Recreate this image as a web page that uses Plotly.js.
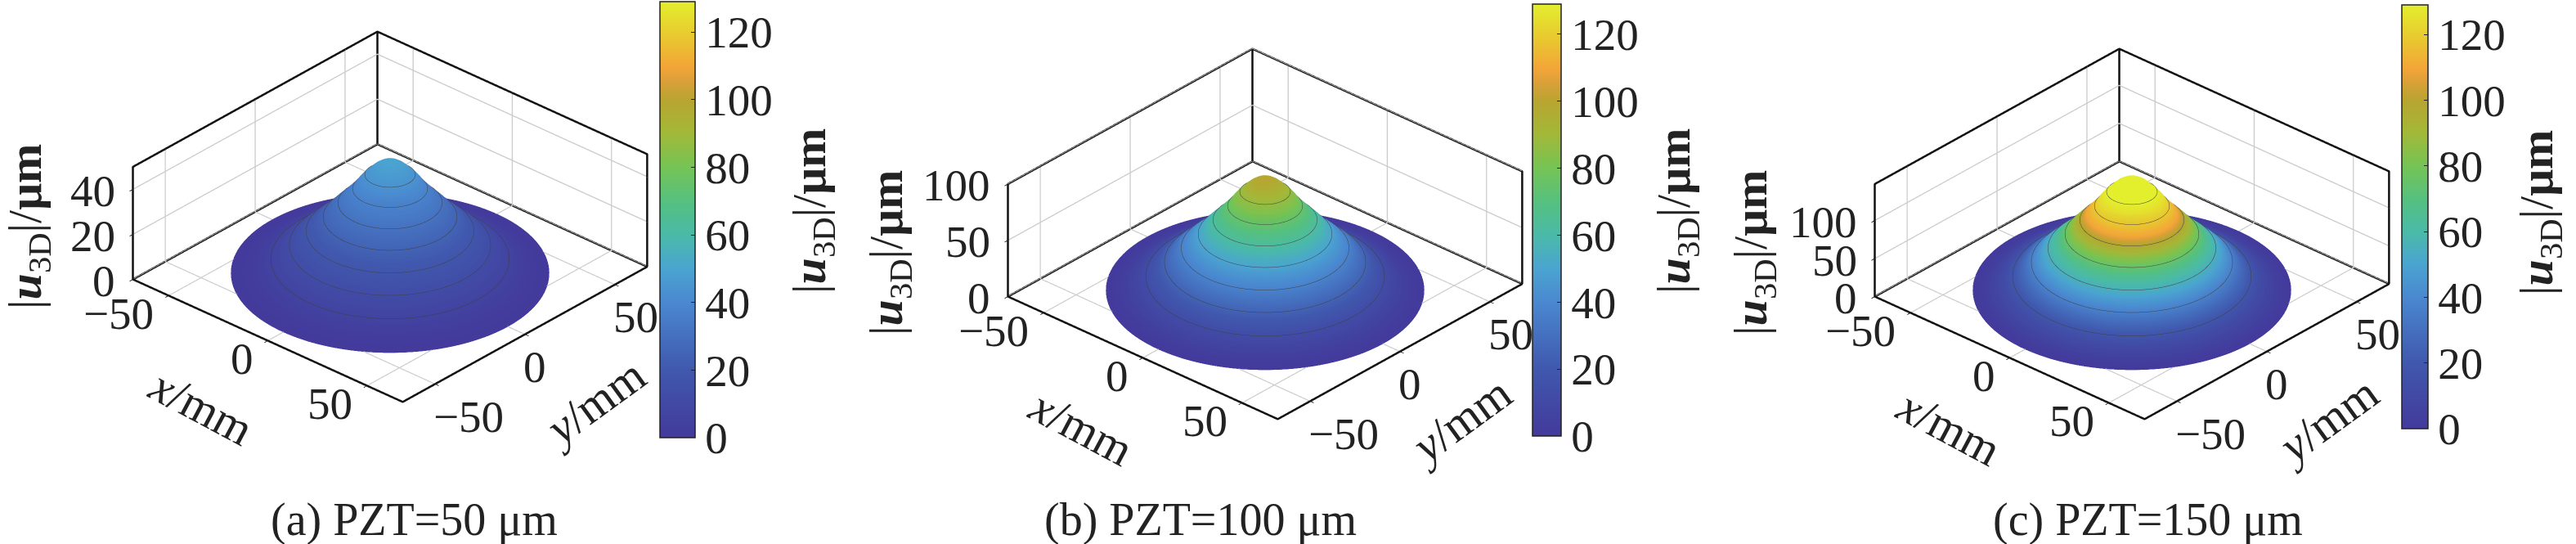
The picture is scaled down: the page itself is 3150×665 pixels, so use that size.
<!DOCTYPE html>
<html>
<head>
<meta charset="utf-8">
<script src="https://cdn.plot.ly/plotly-3.0.1.min.js"></script>
<style>html,body{margin:0;padding:0;background:#fff}</style>
</head>
<body>
<div id="graph" style="width:3150px;height:665px"></div>
<script>
//DATA
var radius = [0,2,4,6,8,9.5,12,14,17,19.5,22,25,28,31.4,34,37.6,41,44.6,48,52,56,59.5];
var uA = [50,49.6,48.7,47.2,45.2,43.7,40.5,37.5,34,31.2,28.5,25,21.8,18.7,16,12.5,9.2,6.2,4,2,0.7,0];
var uB = [100,99.3,97.4,94.4,90.4,87.4,81,75,68,62.4,57,50,43.6,37.4,32,25,18.4,12.4,8,4,1.4,0];
var uC = [148,146.8,144,139.8,133.8,129.4,120,111,100.6,92.4,84.4,74,64.6,55.4,47.4,37,27.2,18.4,11.8,5.9,2.1,0];
//colours read on panel (c), they run ahead of the height near the top
var colorC = [129,129,129,129,129,129,124,118,110,98,88,75,64.6,55.4,47.4,37,27.2,18.4,11.8,5.9,2.1,0];
var xyTicks = [-50,0,50];
var zTicksA = [0,20,40];
var zTicksB = [0,50,100];
var zTicksC = [0,50,100];
var barTicks = [0,20,40,60,80,100,120];
var captions = ['(a) PZT=50 μm','(b) PZT=100 μm','(c) PZT=150 μm'];

var W = 3150, H = 665;
var XY = 68, BARMAX = 129;
var FONT = 'Liberation Serif';
var U_TITLE = '|<b><i>u</i></b><sub>3D</sub>|/<b>μm</b>';

var colors = [[0,'#433a9c'],[0.155,'#4058ad'],[0.31,'#4a88d0'],[0.39,'#4aa5d0'],[0.465,'#4abaa8'],
	[0.54,'#55c080'],[0.62,'#75c455'],[0.70,'#a3b838'],[0.775,'#b8a530'],[0.815,'#d8a038'],[0.85,'#f3a538'],[0.915,'#e9c630'],[1,'#e3ee2d']];

//HELPER FUNCTIONS
function px(x){ return x / W; }
function py(y){ return 1 - y / H; }
function label(x, y, text, angle, size){
	return {xref:'paper', yref:'paper', x:px(x), y:py(y), text:text, textangle:angle || 0, showarrow:false,
		xanchor:'center', yanchor:'middle', font:{family:FONT, size:size || 58, color:'#222'}};
}
function sceneLabel(x, y, z, text, anchor, dx, dy){
	return {x:x, y:y, z:z, text:text, showarrow:false, xanchor:anchor, yanchor:'middle', xshift:dx, yshift:dy,
		font:{family:FONT, size:55, color:'#222'}};
}
function tickText(v){ return String(v).replace('-', '\u2212'); }

function axis(vals, range){
	return {range:range, autorange:false, tickmode:'array', tickvals:vals, showticklabels:false, ticks:'outside', ticklen:6,
		tickcolor:'#111', tickwidth:2, gridcolor:'#cccccc', gridwidth:3, zeroline:false, showline:false, showbackground:false,
		showspikes:false, title:{text:''}};
}

//MAIN
var panels = [
	{u:uA, c:uA, top:50, zt:zTicksA, cx:477, cy:265, bar:[807,2,533,43], sub:[246,497,726,492,34,277,993,258,506,635]},
	{u:uB, c:uB, top:100, zt:zTicksB, cx:1547, cy:286, bar:[1874,5,528,35], sub:[1322,522,1785,514,1087,309,2050,258,1468,635]},
	{u:uC, c:colorC, top:148, zt:zTicksC, cx:2607, cy:286, bar:[2937,6,518,32], sub:[2383,522,2845,514,2144,309,3105,260,2626,635]}
];

var data = [], annotations = [];
var layout = {width:W, height:H, margin:{l:0,r:0,t:0,b:0}, paper_bgcolor:'#fff', showlegend:false, annotations:annotations};

panels.forEach(function(p, i){
	var name = i == 0 ? 'scene' : 'scene' + (i + 1);
	var xs = [], ys = [], zs = [], cs = [];
	for(var a = 0; a <= 144; a++){
		var t = a / 144 * 2 * Math.PI;
		xs.push(radius.map(function(r){ return r * Math.cos(t); }));
		ys.push(radius.map(function(r){ return r * Math.sin(t); }));
		zs.push(p.u);
		cs.push(p.c);
	}
	data.push({type:'surface', scene:name, x:xs, y:ys, z:zs, surfacecolor:cs, cmin:0, cmax:BARMAX, colorscale:colors, hoverinfo:'skip',
		lighting:{ambient:0.92, diffuse:0.18, specular:0.03, roughness:0.9},
		contours:{x:{show:false}, y:{show:false}, z:{show:true, start:p.top/8, end:p.top*7/8+0.01, size:p.top/8, color:'#3f3f3f', width:2}},
		colorbar:{xref:'paper', yref:'paper', x:px(p.bar[0]), xanchor:'left', y:py(p.bar[1]), yanchor:'top',
			thickness:p.bar[3], thicknessmode:'pixels', len:p.bar[2], lenmode:'pixels', xpad:0, ypad:0,
			outlinecolor:'#222', outlinewidth:1.5, ticks:'inside', ticklen:5, tickcolor:'#222', tickmode:'array', tickvals:barTicks,
			tickfont:{family:FONT, size:55, color:'#222'}}});

	//box edges
	var l = -XY, h = XY, z1 = p.top;
	data.push({type:'scatter3d', scene:name, mode:'lines', hoverinfo:'skip', line:{color:'#111', width:5},
		x:[l,h,h,l,l,null,l,l,l,h,h,null,l,l],
		y:[l,l,h,h,l,null,l,l,h,h,h,null,h,h],
		z:[0,0,0,0,0,null,0,z1,z1,z1,0,null,0,z1]});

	var sh = 530;
	layout[name] = {
		domain:{x:[px(p.cx-350), px(p.cx+350)], y:[py(p.cy+sh/2), py(p.cy-sh/2)]},
		aspectmode:'manual', aspectratio:{x:1.68, y:1.68, z:0.6},
		camera:{projection:{type:'orthographic'}, eye:{x:0.58, y:-0.64, z:0.5}, up:{x:0,y:0,z:1}, center:{x:0,y:0,z:0}},
		xaxis:axis(xyTicks, [-XY,XY]), yaxis:axis(xyTicks, [-XY,XY]), zaxis:axis(p.zt, [0,p.top]),
		annotations:[].concat(
			xyTicks.map(function(v){ return sceneLabel(v, -XY, 0, tickText(v), 'right', -16, -22); }),
			xyTicks.map(function(v){ return sceneLabel(XY, v, 0, tickText(v), 'left', -4, -40); }),
			p.zt.map(function(v){ return sceneLabel(-XY, -XY, v, tickText(v), 'right', -20, -2); })
		)
	};

	var s = p.sub;
	annotations.push(label(s[0], s[1], '<i>x</i>/mm', 28));
	annotations.push(label(s[2], s[3], '<i>y</i>/mm', -36));
	annotations.push(label(s[4], s[5], U_TITLE, -90));
	annotations.push(label(s[6], s[7], U_TITLE, -90));
	annotations.push(label(s[8], s[9], captions[i], 0, 56));
});

Plotly.newPlot('graph', data, layout, {displayModeBar:false});
</script>
</body>
</html>
